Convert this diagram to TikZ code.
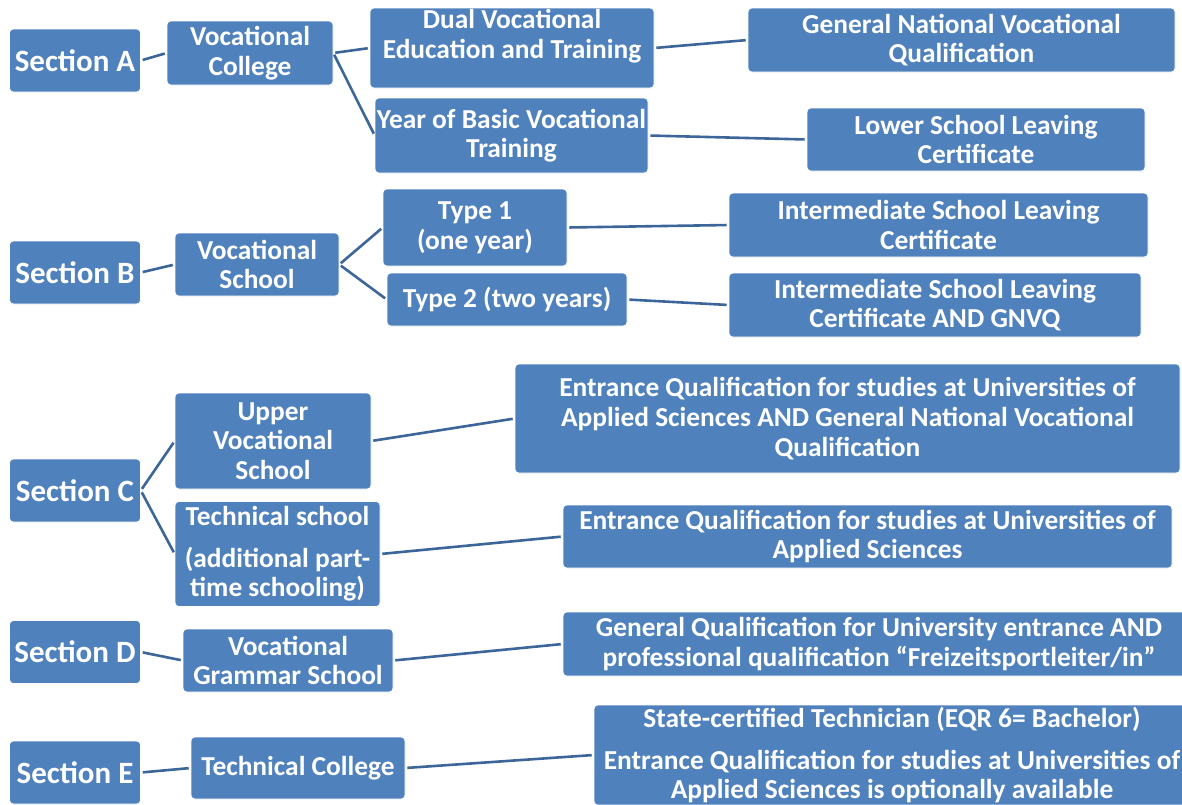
\documentclass[tikz,border=0pt]{standalone}
\usepackage{fontspec}
\setmainfont{Carlito}
\definecolor{boxblue}{RGB}{79,129,189}
\definecolor{lineblue}{RGB}{60,102,154}

\begin{document}
\begin{tikzpicture}
[x=1pt, y=-1pt, font=\bfseries\fontsize{27.4}{29.6}\selectfont,
every node/.style={draw=white, line width=0.6pt, fill=boxblue, text=white,
  rounded corners=4pt, align=center, inner sep=0pt},
boxsize/.style 2 args={minimum width=#1pt, minimum height=#2pt},
section/.style={font=\bfseries\fontsize{31}{34}\selectfont, boxsize={131}{63}},
plain/.style={draw=none, fill=none},
link/.style={draw=lineblue, line width=2.6pt, shorten <=2pt, shorten >=2pt}
]

\useasboundingbox (0,0) rectangle (1182,804);
\clip (0,0) rectangle (1182,804);

% position of the section boxes
\path
(75,60.5) coordinate (s1)
(75,272.5) coordinate (s2)
(75,490.5) coordinate (s3)
(75,652) coordinate (s4)
(75,772.5) coordinate (s5)
;

% section labels
\path foreach \x/\y in {1/A,2/B,3/C,4/D,5/E}
{(s\x) node[section] (S\x) {Section \y}}
;

% schools
\node[boxsize={166}{64}] (a1) at (250,53) {Vocational\\College};
\node[boxsize={164}{63}] (b1) at (257,264.5) {Vocational\\School};
\node[boxsize={196}{96}] (c1) at (273,441) {Upper\\Vocational\\School};
\node[boxsize={205}{105}] (c2) at (277.5,554) {Technical school\\[12pt](additional part-\\time schooling)};
\node[boxsize={210}{63}] (d1) at (288,660.5) {Vocational\\Grammar School};
\node[boxsize={214}{62}] (e1) at (298,768) {Technical College};

% courses
\node[boxsize={284}{80}] (a2) at (512,48) {};
\node[plain] (a2t) at (512,36) {Dual Vocational\\Education and Training};
\node[boxsize={273}{75}] (a3) at (511.5,135.5) {Year of Basic Vocational\\Training};
\node[boxsize={184}{77}] (b2) at (475,227.5) {Type 1\\(one year)};
\node[boxsize={240}{53}] (b3) at (507,299.5) {Type 2 (two years)};

% qualifications
\node[boxsize={427}{64}] (a4) at (961.5,40) {General National Vocational\\Qualification};
\node[boxsize={338}{63}] (a5) at (976,139.5) {Lower School Leaving\\Certificate};
\node[boxsize={419}{64}] (b4) at (938.5,225) {Intermediate School Leaving\\Certificate};
\node[boxsize={412}{64}] (b5) at (935,305) {Intermediate School Leaving\\Certificate AND GNVQ};
\node[boxsize={665}{109}] (c3) at (847.5,418.5) {Entrance Qualification for studies at Universities of\\Applied Sciences AND General National Vocational\\Qualification};
\node[boxsize={609}{63}] (c4) at (867.5,536.5) {Entrance Qualification for studies at Universities of\\Applied Sciences};
\node[boxsize={632}{64}] (d2) at (879,644) {General Qualification for University entrance AND\\professional qualification “Freizeitsportleiter/in”};
\node[boxsize={596}{100}] (e2) at (892,755) {State-certified Technician (EQR 6= Bachelor)\\[12pt]Entrance Qualification for studies at Universities of\\Applied Sciences is optionally available};

% connectors
\foreach \a/\b in {S1/a1,a1/a2,a1/a3,a2/a4,a3/a5,
  S2/b1,b1/b2,b1/b3,b2/b4,b3/b5,
  S3/c1,S3/c2,c1/c3,c2/c4,
  S4/d1,d1/d2,S5/e1,e1/e2}
  \draw[link] (\a.east) -- (\b.west);

\end{tikzpicture}
\end{document}
